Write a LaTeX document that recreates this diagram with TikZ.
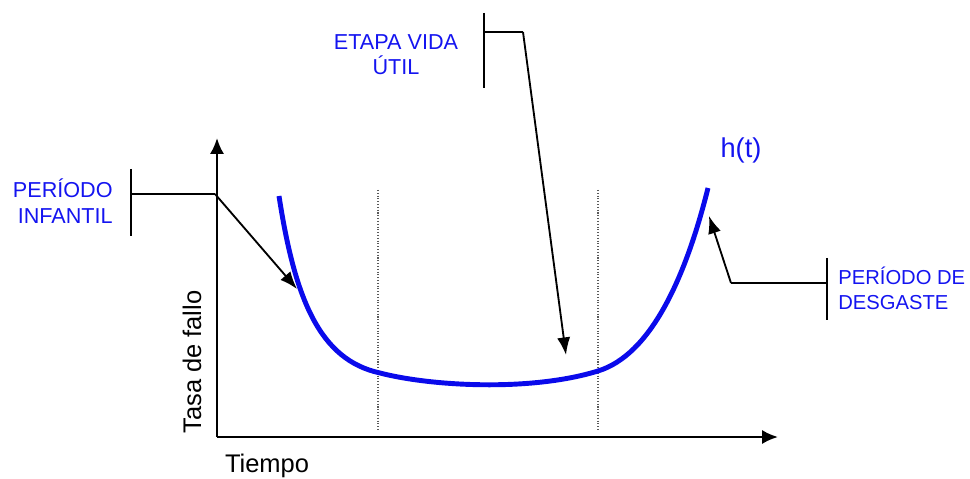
\documentclass[tikz,border=0pt]{standalone}
\usepackage{fontspec}
\setmainfont{Liberation Sans}
\usetikzlibrary{arrows.meta}
\definecolor{lblblue}{RGB}{20,20,240}
\definecolor{curveblue}{RGB}{10,10,235}
\begin{document}
\begin{tikzpicture}[x=0.02cm,y=-0.02cm,
  lbl/.style={text=lblblue,font=\fontsize{12.3}{14.4}\selectfont,inner sep=0pt},
  axislbl/.style={font=\fontsize{14.5}{17}\selectfont,inner sep=0pt},
  axisline/.style={line width=1.4pt,-{Latex[length=9pt,width=8pt]}},
  bracket/.style={line width=0.95pt},
  pointer/.style={line width=1.05pt,-{Latex[length=10pt,width=7.5pt]}},
  divider/.style={densely dotted,line width=0.6pt,gray!70!black},
  hazard/.style={line width=2.8pt,curveblue}]
\useasboundingbox (0,0) rectangle (970,479);
% axes
\coordinate (O) at (217,437);
\coordinate (ytip) at (217,138);
\coordinate (xtip) at (778,437);
\draw[axisline] (O) -- (ytip);
\draw[axisline] (O) -- (xtip);
% dividers
\coordinate (d1t) at (378,190);
\coordinate (d1b) at (378,431);
\coordinate (d2t) at (598,190);
\coordinate (d2b) at (598,431);
\draw[divider] (d1t) -- (d1b);
\draw[divider] (d2t) -- (d2b);
% curve
\coordinate (c0) at (279,196);
\coordinate (c1) at (380,373);
\coordinate (c2) at (598,371);
\coordinate (c3) at (708,188);
\draw[hazard] (c0) .. controls (295,300) and (320,360) .. (c1)
  .. controls (430,386) and (530,392) .. (c2)
  .. controls (650,355) and (685,280) .. (c3);
% labels
\node[axislbl] (tiempo) at (267,466) {Tiempo};
\node[axislbl,rotate=90] (tasa) at (192,362) {Tasa de fallo};
\node[text=lblblue,font=\fontsize{15.5}{18}\selectfont,inner sep=0pt] (ht) at (741,150) {h(t)};
\node[lbl,align=right,anchor=east] (inf) at (113,201) {PERÍODO\\INFANTIL};
\node[lbl,align=center] (util) at (396,55) {ETAPA VIDA\\ÚTIL};
\node[lbl,font=\fontsize{11.5}{14.4}\selectfont,align=left,anchor=west] (desg) at (838,288) {PERÍODO DE\\DESGASTE};
% brackets and pointers
\coordinate (b1t) at (131,169);
\coordinate (b1b) at (131,236);
\coordinate (b1m) at (131,194);
\coordinate (b1k) at (215,194);
\coordinate (b1e) at (297,289);
\draw[bracket] (b1t) -- (b1b);
\draw[bracket] (b1m) -- (b1k);
\draw[pointer] (b1k) -- (b1e);
\coordinate (b2t) at (484,13);
\coordinate (b2b) at (484,88);
\coordinate (b2m) at (484,32);
\coordinate (b2k) at (523,32);
\coordinate (b2e) at (566,355);
\draw[bracket] (b2t) -- (b2b);
\draw[bracket] (b2m) -- (b2k);
\draw[pointer] (b2k) -- (b2e);
\coordinate (b3t) at (827,258);
\coordinate (b3b) at (827,320);
\coordinate (b3m) at (827,283);
\coordinate (b3k) at (731,283);
\coordinate (b3e) at (709,216);
\draw[bracket] (b3t) -- (b3b);
\draw[bracket] (b3m) -- (b3k);
\draw[pointer] (b3k) -- (b3e);
\end{tikzpicture}
\end{document}
